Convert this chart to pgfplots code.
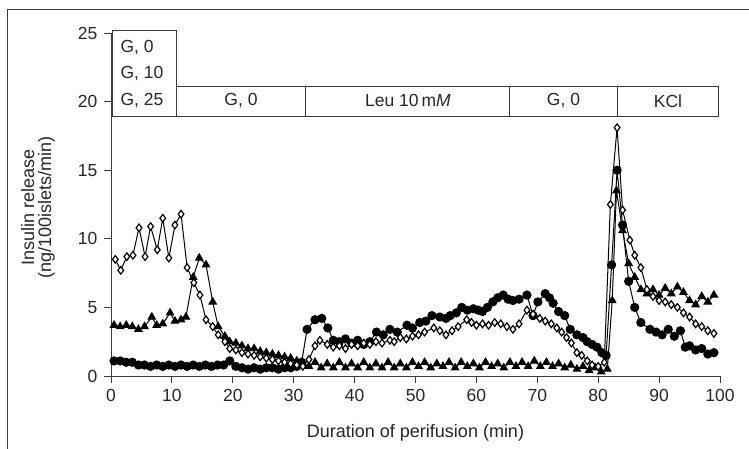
\documentclass[border=0pt]{standalone}
\usepackage{pgfplots}
\pgfplotsset{compat=1.18}
\usepackage{fontspec}
\setmainfont{Liberation Sans}
\definecolor{axgray}{HTML}{3A3A3A}
\begin{document}
\begin{tikzpicture}
\useasboundingbox (-111pt,-73pt) rectangle (638pt,376pt);
\draw[axgray, line width=1pt] (-103pt,-73pt) -- (-103pt,366pt) -- (638pt,366pt);
\begin{axis}[
  at={(0,0)}, anchor=south west,
  scale only axis, width=609pt, height=343pt,
  xmin=0, xmax=100, ymin=0, ymax=25,
  axis lines*=left,
  axis line style={axgray, line width=0.9pt},
  every tick/.style={axgray, line width=0.9pt},
  tick align=outside, major tick length=7pt,
  xtick={0,10,...,100}, ytick={0,5,...,25},
  /pgf/number format/assume math mode=true,
  tick label style={font=\fontsize{17.5}{20}\selectfont, text=black!85},
  xticklabel style={yshift=-3pt},
  yticklabel style={xshift=-3pt},
  xlabel={Duration of perifusion (min)},
  ylabel={Insulin release\\(ng/100islets/min)},
  label style={font=\fontsize{18}{17}\selectfont, text=black!85},
  xlabel style={at={(axis description cs:0.5,-0.166)}, anchor=center},
  ylabel style={at={(axis description cs:-0.12,0.49)}, anchor=center, align=center, rotate=0},
  clip=false,
]
% boxes
\draw[axgray, line width=0.9pt] (axis cs:0.3,18.95) rectangle (axis cs:10.7,25.15);
\draw[axgray, line width=0.9pt] (axis cs:10.7,18.95) rectangle (axis cs:99.8,21.14);
\draw[axgray, line width=0.9pt] (axis cs:32,18.95) -- (axis cs:32,21.14);
\draw[axgray, line width=0.9pt] (axis cs:65.5,18.95) -- (axis cs:65.5,21.14);
\draw[axgray, line width=0.9pt] (axis cs:83.1,18.95) -- (axis cs:83.1,21.14);
\begin{scope}[every node/.style={font=\fontsize{17.5}{20}\selectfont, text=black!85}]
\node[anchor=west] at (axis cs:1.0,23.95) {G, 0};
\node[anchor=west] at (axis cs:1.0,22.05) {G, 10};
\node[anchor=west] at (axis cs:1.0,20.05) {G, 25};
\node at (axis cs:21.35,20.05) {G, 0};
\node at (axis cs:48.75,20.05) {Leu 10\,m\textit{M}};
\node at (axis cs:74.3,20.05) {G, 0};
\node at (axis cs:91.45,20.05) {KCl};
\end{scope}
% filled circles
\addplot[black, line width=1pt, mark=*, mark size=4.1pt, mark options={fill=black}] coordinates {
(0.5,1.1)(1.5,1.1)(2.5,1.0)(3.5,1.0)(4.5,0.8)(5.5,0.8)(6.5,0.7)(7.5,0.8)(8.5,0.7)(9.5,0.8)
(10.5,0.7)(11.5,0.8)(12.5,0.7)(13.5,0.8)(14.5,0.7)(15.5,0.8)(16.5,0.7)(17.5,0.8)(18.5,0.8)(19.5,1.1)
(20.5,0.7)(21.5,0.6)(22.5,0.5)(23.5,0.6)(24.5,0.5)(25.5,0.6)(26.5,0.6)(27.5,0.5)(28.5,0.6)(29.5,0.6)
(30.5,0.7)(31.3,1.0)(32.2,3.4)(33.5,4.1)(34.6,4.2)(35.6,3.5)(36.5,2.6)(37.5,2.5)(38.5,2.7)(39.5,2.4)
(40.5,2.6)(41.5,2.3)(42.5,2.5)(43.6,3.2)(44.7,3.0)(45.8,3.4)(47,3.2)(48.6,3.7)(49.5,3.5)(50.7,3.9)
(51.7,4.0)(52.7,4.4)(54,4.3)(55,4.2)(55.7,4.4)(56.7,4.6)(57.6,5.0)(58.5,4.8)(59.5,4.9)(60.3,4.8)
(61,4.7)(61.8,5.0)(62.7,5.4)(63.5,5.7)(64.4,5.9)(65.2,5.6)(66,5.5)(67,5.6)(68.3,5.9)(69.3,4.4)
(70.1,5.4)(71.3,6.0)(72,5.7)(72.6,5.3)(73.5,4.7)(74.5,4.4)(75.4,3.4)(76.5,3.0)(77.5,2.8)(78.2,2.5)
(79,2.3)(79.8,2.1)(80.6,1.7)(81.3,1.5)(82.2,8.1)(83.1,15.0)(84,11.0)(85,6.9)(86,5.0)(87,3.9)
(88.5,3.4)(89.5,3.2)(90.5,3.0)(91.5,3.4)(92.5,2.9)(93.5,3.3)(94.3,2.1)(95,2.2)(96,1.9)(97,2.0)
(98,1.6)(99,1.7)
};
% filled triangles
\addplot[black, line width=1pt, mark=triangle*, mark size=4.2pt, mark options={fill=black}] coordinates {
(0.5,3.7)(1.5,3.6)(2.5,3.7)(3.5,3.6)(4.5,3.4)(5.5,3.6)(6.7,4.3)(7.5,3.7)(8.5,3.8)(9.7,4.6)
(10.5,4.0)(11.5,4.1)(12.3,4.3)(13.5,7.2)(14.5,8.6)(15.6,8.1)(16.7,5.4)(17.6,3.6)(18.7,2.9)(19.5,2.5)
(20.5,2.4)(21.5,2.2)(22.5,2.0)(23.5,2.0)(24.5,1.8)(25.5,1.7)(26.5,1.6)(27.5,1.5)(28.5,1.4)(29.5,1.3)
(30.5,1.1)(31.5,0.9)(32.5,0.7)(33.5,1.0)(34.5,0.6)(35.5,0.9)(36.5,0.6)(37.5,1.0)(38.5,0.6)(39.5,0.9)
(40.5,0.6)(41.5,1.0)(42.5,0.6)(43.5,0.9)(44.5,0.6)(45.5,1.0)(46.5,0.6)(47.5,0.9)(48.5,0.6)(49.5,1.0)
(50.5,0.7)(51.5,1.0)(52.5,0.6)(53.5,0.9)(54.5,0.7)(55.5,1.0)(56.5,0.6)(57.5,1.0)(58.5,0.7)(59.5,0.9)
(60.5,0.6)(61.5,1.0)(62.5,0.7)(63.5,0.9)(64.5,0.6)(65.5,1.0)(66.5,0.7)(67.5,1.0)(68.5,0.7)(69.5,1.1)
(70.5,0.7)(71.5,1.0)(72.5,0.7)(73.5,0.9)(74.5,0.6)(75.5,0.8)(76.5,0.5)(77.5,0.7)(78.5,0.4)(79.5,0.6)
(80.5,0.3)(81.5,0.5)(82.3,5.5)(83,13.5)(84,10.6)(85,8.2)(86,7.2)(87,6.3)(88,6.0)(89,6.3)
(90,5.9)(91,6.4)(92,6.0)(93,6.5)(94,6.1)(95,5.5)(96,5.2)(97,5.8)(98,5.4)(99,5.9)
};
% open diamonds
\addplot[black, line width=1pt, mark=diamond*, mark size=3.8pt, mark options={fill=white, line width=1.2pt}] coordinates {
(0.7,8.5)(1.6,7.7)(2.6,8.7)(3.6,8.8)(4.6,10.8)(5.6,8.7)(6.5,10.9)(7.6,9.2)(8.5,11.5)(9.5,8.6)
(10.5,11.0)(11.5,11.8)(12.5,7.9)(13.6,6.8)(14.6,5.9)(15.6,4.1)(16.7,3.6)(17.6,3.0)(18.7,2.5)(19.5,2.0)
(20.5,1.9)(21.5,1.7)(22.5,1.6)(23.5,1.5)(24.5,1.4)(25.5,1.3)(26.5,1.2)(27.5,1.1)(28.5,1.0)(29.5,0.9)
(30.5,0.8)(31.5,0.7)(32.5,1.2)(33.5,2.2)(34.3,2.6)(35.5,2.3)(36.5,2.1)(37.5,2.2)(38.5,2.0)(39.5,2.3)
(40.5,2.2)(41.5,2.4)(42.5,2.3)(43.5,2.5)(44.5,2.4)(45.8,2.6)(46.5,2.5)(47.5,2.8)(48.5,2.7)(49.5,2.9)
(50.5,3.0)(51.5,3.2)(53,3.5)(54,3.3)(55,3.0)(56,3.3)(57,3.6)(58.4,4.1)(59.2,3.9)(60,3.7)
(61,3.8)(62,3.7)(63,3.9)(64,3.8)(65,3.6)(66,3.4)(67,3.8)(68.3,4.8)(69.3,4.5)(70.4,4.2)
(71.3,4.0)(72.3,3.8)(73.2,3.5)(74,3.2)(74.8,2.8)(75.6,2.4)(76.5,1.7)(77.3,1.5)(78.2,1.1)(79,0.8)
(80,0.7)(81,1.0)(82,12.5)(83.1,18.1)(84,12.1)(85.2,9.9)(86,8.8)(87,7.9)(88,6.3)(89,5.8)
(90,5.5)(91,5.4)(92,5.2)(93,5.0)(94,4.6)(95,4.3)(96,3.8)(97,3.6)(98,3.3)(99,3.1)
};
\end{axis}
\end{tikzpicture}
\end{document}
